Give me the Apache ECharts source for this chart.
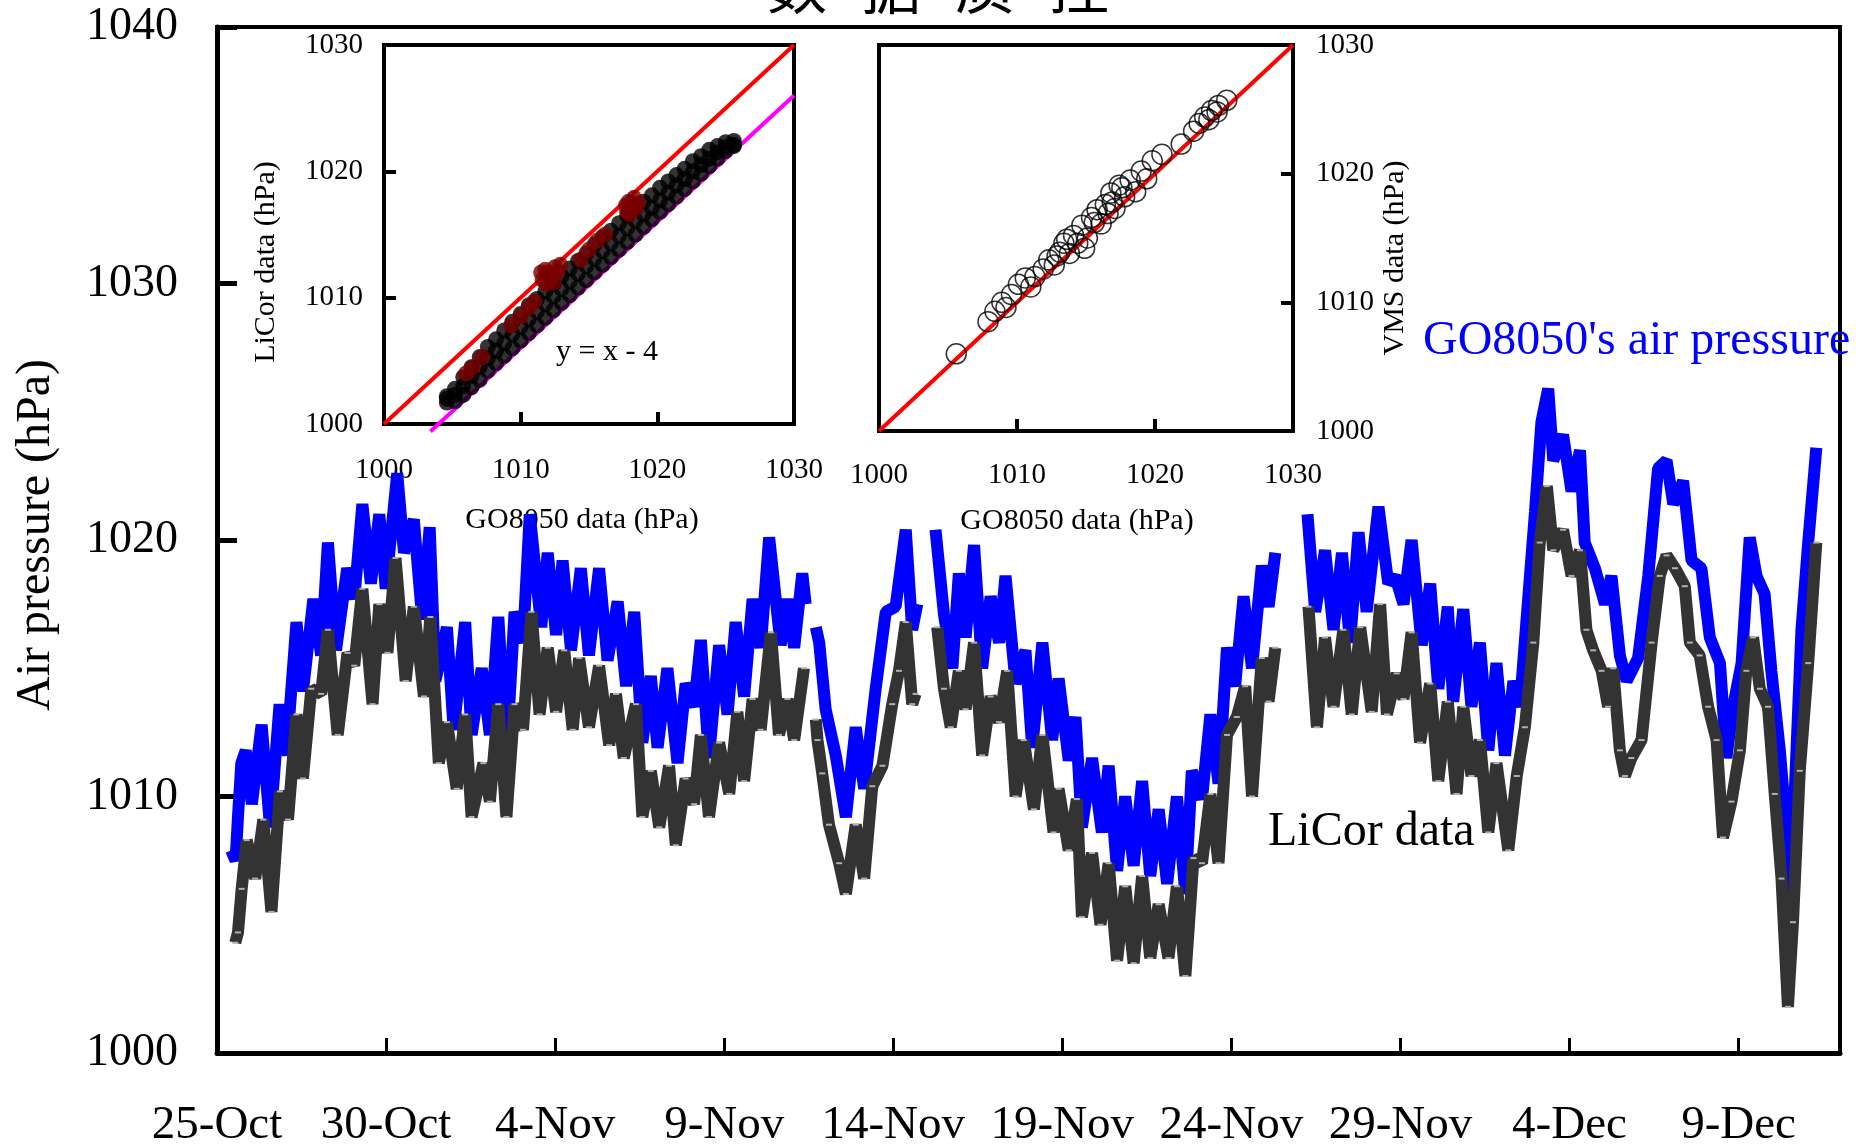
<!DOCTYPE html>
<html><head><meta charset="utf-8">
<script src="https://cdn.jsdelivr.net/npm/echarts/dist/echarts.min.js"></script>
<style>html,body{margin:0;padding:0;background:#fff}#c{width:1864px;height:1144px}</style>
</head><body><div id="c"></div>
<script>
// ---------- tick labels ----------
const dateLabels = ['25-Oct','30-Oct','4-Nov','9-Nov','14-Nov','19-Nov','24-Nov','29-Nov','4-Dec','9-Dec'];
const titleChars = ['数','据','质','控'];

// ---------- main series: days since 25-Oct, pressure (hPa); null = gap ----------
const goDays = [0.42,0.55,0.62,0.72,0.85,1.03,1.32,1.57,1.85,2.05,2.35,2.54,2.85,3.08,3.28,3.52,3.85,4.06,4.3,4.55,4.8,4.99,5.33,5.53,5.82,6.07,6.29,6.46,6.8,7.0,7.34,7.53,7.83,8.07,8.32,8.56,8.8,9.05,9.25,9.59,9.78,10.03,10.22,10.47,10.76,11.0,11.3,11.55,11.85,12.1,12.34,12.58,12.83,13.03,13.32,13.62,13.86,14.11,14.31,14.55,14.85,15.1,15.34,15.59,15.84,16.08,16.33,16.67,16.87,17.07,17.31,17.41,
17.55,
17.71,17.81,18.0,18.3,18.6,18.89,19.14,19.48,19.78,20.07,20.37,20.56,20.71,
21.0,
21.25,21.5,21.75,21.94,22.14,22.39,22.63,22.88,23.13,23.32,23.62,23.91,24.11,24.41,24.7,24.89,25.19,25.39,25.58,25.88,26.17,26.37,26.62,26.86,27.11,27.36,27.6,27.85,28.1,28.39,28.64,28.83,29.13,29.38,29.62,29.87,30.11,30.36,30.61,30.9,31.1,31.3,
31.8,
32.25,32.48,32.77,33.02,33.27,33.51,33.76,34.0,34.35,34.64,34.84,35.09,35.33,35.63,35.88,36.12,36.4,36.56,36.86,37.1,37.35,37.6,37.84,38.09,38.34,38.53,38.73,38.98,39.17,39.37,39.52,39.81,40.06,40.31,40.45,40.75,41.05,41.24,41.49,41.69,42.03,42.33,42.62,42.87,43.07,43.36,43.61,43.9,44.15,44.45,44.64,44.84,45.09,45.33,45.53,45.77,45.97,46.22,46.41,46.51,46.66,46.86,47.06,47.3];
const goPres = [1007.9,1007.5,1009.2,1011.3,1011.8,1009.7,1012.8,1008.8,1013.6,1011.6,1016.8,1014.1,1017.7,1015.5,1019.9,1015.7,1018.9,1017.7,1021.4,1018.3,1021.0,1018.1,1022.6,1019.5,1020.8,1016.9,1020.5,1014.5,1016.6,1012.6,1016.8,1012.4,1015.0,1012.4,1017.0,1011.6,1017.2,1016.0,1021.0,1016.6,1019.5,1016.3,1019.2,1015.7,1018.9,1015.5,1018.9,1015.3,1017.6,1014.3,1017.2,1012.1,1014.7,1011.9,1015.0,1011.3,1014.4,1013.5,1016.1,1011.5,1015.9,1013.2,1016.8,1013.9,1017.7,1015.8,1020.1,1015.9,1017.7,1015.8,1018.7,1017.5,
null,
1016.6,1016.0,1013.4,1011.6,1009.2,1012.7,1010.3,1014.2,1017.2,1017.4,1020.4,1016.5,1017.5,
null,
1020.4,1017.1,1015.0,1018.7,1016.2,1019.8,1015.0,1017.8,1016.0,1018.6,1014.4,1015.7,1011.9,1016.0,1012.2,1014.6,1011.4,1013.1,1008.8,1011.5,1008.6,1011.2,1007.1,1010.0,1007.3,1010.6,1006.9,1009.5,1006.6,1010.0,1006.2,1011.0,1009.9,1013.2,1010.5,1015.8,1014.3,1017.8,1015.0,1019.0,1017.4,1019.5,
null,
1021.0,1017.2,1019.6,1016.5,1019.5,1016.0,1020.3,1017.2,1021.3,1018.3,1018.6,1017.5,1020.0,1015.9,1018.3,1014.2,1017.4,1013.7,1017.3,1013.5,1016.0,1011.8,1015.2,1011.6,1014.5,1013.5,1016.9,1021.1,1024.6,1025.9,1023.1,1024.1,1021.9,1023.5,1019.9,1018.9,1017.5,1018.6,1015.5,1014.5,1015.4,1018.6,1022.8,1023.1,1021.4,1022.3,1019.2,1018.9,1016.2,1015.2,1011.5,1013.5,1015.2,1020.1,1018.6,1017.9,1014.9,1011.8,1008.8,1005.1,1010.1,1016.5,1019.9,1023.6];

const liDays = [0.54,0.62,0.73,0.88,1.13,1.37,1.61,1.86,2.1,2.35,2.54,2.79,3.08,3.28,3.57,3.86,4.06,4.3,4.6,4.8,5.04,5.28,5.58,5.82,6.12,6.31,6.56,6.8,7.09,7.34,7.53,7.88,8.07,8.32,8.56,8.8,9.05,9.3,9.54,9.78,10.03,10.27,10.52,10.71,11.0,11.3,11.6,11.8,12.03,12.39,12.58,12.83,13.08,13.37,13.57,13.86,14.11,14.31,14.55,14.85,15.15,15.39,15.59,15.84,16.08,16.38,16.62,16.87,17.07,17.36,
17.55,
17.71,17.76,17.9,18.1,18.4,18.6,18.89,19.14,19.38,19.68,19.97,20.17,20.37,20.56,20.66,
21.0,
21.3,21.5,21.7,21.94,22.14,22.39,22.63,22.88,23.13,23.37,23.62,23.86,24.16,24.41,24.74,24.89,25.19,25.43,25.58,25.88,26.13,26.37,26.62,26.86,27.11,27.36,27.6,27.85,28.14,28.39,28.64,28.88,29.13,29.38,29.62,29.87,30.16,30.41,30.61,30.9,31.1,31.3,
31.8,
32.28,32.53,32.77,33.02,33.31,33.56,33.81,34.15,34.4,34.6,34.89,35.09,35.33,35.58,35.88,36.12,36.4,36.66,36.86,37.1,37.35,37.6,37.84,38.19,38.44,38.68,38.93,39.12,39.33,39.52,39.81,40.06,40.31,40.5,40.7,40.95,41.14,41.29,41.49,41.64,41.83,42.13,42.43,42.67,42.87,43.12,43.41,43.56,43.85,44.1,44.35,44.54,44.79,45.04,45.23,45.43,45.63,45.87,46.07,46.27,46.46,46.61,46.81,47.06,47.3];
const liPres = [1004.3,1004.7,1006.4,1008.3,1006.8,1009.1,1005.5,1010.2,1009.1,1013.2,1010.7,1014.2,1014.0,1016.5,1012.4,1015.6,1015.1,1018.1,1013.6,1017.5,1015.6,1019.3,1014.5,1017.4,1013.9,1017.0,1011.3,1012.9,1010.3,1013.2,1009.2,1011.3,1009.8,1013.6,1009.2,1013.6,1012.6,1017.2,1013.2,1015.8,1013.3,1015.7,1012.6,1015.4,1012.7,1015.1,1012.0,1014.0,1011.5,1013.6,1009.2,1011.0,1008.8,1011.2,1008.1,1010.7,1009.7,1012.4,1009.2,1012.1,1010.1,1013.3,1010.6,1013.8,1012.6,1016.4,1012.4,1013.8,1012.2,1015.0,
null,
1013.0,1012.2,1010.9,1008.9,1007.4,1006.2,1008.9,1006.8,1010.4,1011.2,1013.6,1014.9,1016.8,1013.6,1014.0,
null,
1016.6,1014.2,1012.7,1014.9,1013.4,1016.0,1011.6,1013.9,1012.9,1014.9,1010.0,1012.2,1009.5,1012.4,1008.6,1010.3,1007.9,1009.9,1005.3,1007.8,1005.0,1007.4,1003.6,1006.5,1003.5,1006.9,1003.7,1005.8,1003.7,1006.5,1003.0,1007.6,1007.4,1010.1,1007.4,1012.4,1013.1,1014.3,1010.0,1015.4,1013.7,1015.8,
null,
1017.4,1012.7,1016.2,1013.5,1016.5,1013.2,1016.6,1013.3,1017.5,1013.2,1014.8,1013.8,1016.4,1012.1,1014.4,1010.6,1013.7,1010.1,1013.5,1010.8,1012.2,1008.6,1011.3,1007.9,1010.8,1012.7,1016.0,1019.9,1022.1,1019.6,1020.4,1018.6,1019.6,1016.5,1015.7,1014.9,1013.5,1015.0,1011.8,1010.8,1011.5,1012.2,1016.0,1018.6,1019.4,1018.9,1018.2,1016.0,1015.5,1013.5,1012.2,1008.4,1009.8,1011.8,1014.9,1016.2,1014.2,1013.5,1010.1,1006.8,1001.8,1005.1,1011.0,1015.2,1019.9];

// ---------- inset 1: GO8050 vs LiCor (upper, middle and lower edge of the dense band) ----------
const ins1GO = [1004.6,1005.2,1005.8,1006.4,1007.0,1007.6,1008.2,1008.8,1009.4,1010.0,1010.6,1011.2,1011.8,1012.4,1013.0,1013.6,1014.2,1014.8,1015.4,1016.0,1016.6,1017.2,1017.8,1018.4,1019.0,1019.6,1020.2,1020.8,1021.4,1022.0,1022.6,1023.2,1023.8,1024.4,1025.0,1025.6];
const ins1LiCorUpper = [1002.2,1002.8,1003.7,1004.5,1005.3,1006.1,1006.7,1007.4,1008.1,1008.7,1009.4,1009.9,1010.5,1011.1,1011.7,1012.3,1012.9,1013.5,1014.2,1014.8,1015.3,1015.9,1016.5,1017.1,1017.6,1018.1,1018.7,1019.2,1019.7,1020.2,1020.8,1021.2,1021.7,1022.0,1022.3,1022.4];
const ins1LiCorMid   = [1002.0,1002.3,1003.0,1003.8,1004.5,1005.2,1005.8,1006.4,1007.1,1007.7,1008.3,1008.9,1009.5,1010.1,1010.7,1011.3,1011.9,1012.5,1013.1,1013.7,1014.3,1014.9,1015.5,1016.1,1016.6,1017.1,1017.7,1018.3,1018.9,1019.4,1020.0,1020.5,1021.0,1021.5,1021.9,1022.1];
const ins1LiCorLower = [1001.7,1001.8,1002.3,1002.9,1003.5,1004.2,1004.8,1005.4,1006.0,1006.6,1007.2,1007.8,1008.4,1009.0,1009.6,1010.2,1010.8,1011.4,1012.0,1012.6,1013.2,1013.8,1014.4,1015.0,1015.6,1016.2,1016.8,1017.4,1018.0,1018.6,1019.2,1019.8,1020.4,1021.0,1021.6,1022.0];
const ins1OddGO    = [1006.0,1006.5,1007.2,1009.3,1010.0,1010.6,1011.0,1011.6,1011.8,1012.0,1012.2,1012.5,1012.7,1011.9,1012.4,1012.9,1011.5,1014.4,1015.0,1015.6,1016.2,1017.8,1017.9,1018.1,1018.3,1018.4,1018.0,1017.7,1018.6];
const ins1OddLiCor = [1004.0,1004.5,1005.3,1007.8,1008.5,1009.2,1009.7,1011.4,1012.2,1012.0,1011.6,1012.4,1012.0,1011.1,1011.2,1012.6,1012.0,1013.0,1013.8,1014.5,1015.0,1016.8,1017.6,1017.4,1017.9,1017.1,1016.6,1017.3,1017.5];
const oneToOne = [1000, 1030];
const fitX = [1003.4, 1030];   // y = x - 4
const fitY = [999.4, 1026];

// ---------- inset 2: GO8050 vs VMS ----------
const ins2GO  = [1005.6,1007.9,1008.4,1008.9,1009.2,1009.6,1010.1,1010.6,1011.0,1011.3,1011.9,1012.3,1012.7,1013.1,1013.4,1013.8,1014.1,1014.4,1014.7,1015.1,1015.4,1015.8,1016.1,1016.4,1016.8,1017.1,1017.4,1017.8,1018.2,1018.6,1019.0,1019.4,1019.8,1020.5,1021.9,1022.8,1023.2,1023.6,1024.1,1024.6,1025.2,1023.9,1024.5,1014.9,1016.6,1012.9,1013.6,1015.6,1016.9,1017.6];
const ins2VMS = [1006.0,1008.5,1009.3,1010.0,1009.6,1010.6,1011.4,1011.9,1011.2,1012.0,1012.6,1013.3,1012.9,1013.9,1014.6,1013.8,1015.2,1014.6,1016.0,1015.0,1016.6,1017.2,1016.1,1017.6,1018.5,1017.3,1019.1,1018.2,1019.5,1018.6,1020.2,1019.6,1021.0,1021.5,1022.3,1023.3,1023.9,1024.4,1024.9,1025.3,1025.7,1024.2,1024.8,1014.2,1016.9,1013.6,1014.9,1016.2,1017.8,1018.9];

const SERIF = '"Liberation Serif","Times New Roman",serif';
const pair = (xs, ys) => xs.map((x, i) => [x, ys[i] === null ? '-' : ys[i]]);
const plain = v => String(v);

const chart = echarts.init(document.getElementById('c'), null, {renderer: 'canvas'});

function insetX(grid, margin) {
  return {
    gridIndex: grid, type: 'value', min: 1000, max: 1030, interval: 10,
    axisLine: {show: true, onZero: false, lineStyle: {color: '#000', width: 4}},
    axisTick: {show: true, inside: true, length: 12, lineStyle: {color: '#000', width: 4}},
    axisLabel: {color: '#000', fontFamily: SERIF, fontSize: 29, margin: margin, formatter: plain},
    splitLine: {show: false}
  };
}
function insetY(grid, pos, margin) {
  return {
    gridIndex: grid, type: 'value', min: 1000, max: 1030, interval: 10, position: pos,
    axisLine: {show: true, onZero: false, lineStyle: {color: '#000', width: 4}},
    axisTick: {show: true, inside: true, length: 12, lineStyle: {color: '#000', width: 4}},
    axisLabel: {color: '#000', fontFamily: SERIF, fontSize: 29, margin: margin, formatter: plain},
    splitLine: {show: false}
  };
}

const graphics = [];
const titleX = [797, 891, 985, 1079];
titleChars.forEach((ch, i) => graphics.push({
  type: 'text', x: titleX[i], y: 16,
  style: {text: ch, fill: '#000', font: '60px "Noto Sans CJK SC"', align: 'center', verticalAlign: 'bottom', textAlign: 'center', textVerticalAlign: 'bottom'}
}));
graphics.push(
  {type: 'text', x: 36, y: 535, rotation: Math.PI / 2,
   style: {text: 'Air pressure (hPa)', fill: '#000', font: '48px ' + SERIF, align: 'center', verticalAlign: 'middle', textAlign: 'center', textVerticalAlign: 'middle'}},
  {type: 'text', x: 1423, y: 341,
   style: {text: "GO8050's air pressure", fill: '#0000ff', font: '48px ' + SERIF, align: 'left', verticalAlign: 'middle', textAlign: 'left', textVerticalAlign: 'middle'}},
  {type: 'text', x: 1268, y: 832,
   style: {text: 'LiCor data', fill: '#000', font: '48px ' + SERIF, align: 'left', verticalAlign: 'middle', textAlign: 'left', textVerticalAlign: 'middle'}},
  {type: 'text', x: 607, y: 352,
   style: {text: 'y = x - 4', fill: '#000', font: '30px ' + SERIF, align: 'center', verticalAlign: 'middle', textAlign: 'center', textVerticalAlign: 'middle'}},
  {type: 'text', x: 266, y: 262, rotation: Math.PI / 2,
   style: {text: 'LiCor data (hPa)', fill: '#000', font: '30px ' + SERIF, align: 'center', verticalAlign: 'middle', textAlign: 'center', textVerticalAlign: 'middle'}},
  {type: 'text', x: 582, y: 520,
   style: {text: 'GO8050 data (hPa)', fill: '#000', font: '30px ' + SERIF, align: 'center', verticalAlign: 'middle', textAlign: 'center', textVerticalAlign: 'middle'}},
  {type: 'text', x: 1077, y: 521,
   style: {text: 'GO8050 data (hPa)', fill: '#000', font: '30px ' + SERIF, align: 'center', verticalAlign: 'middle', textAlign: 'center', textVerticalAlign: 'middle'}},
  {type: 'text', x: 1395, y: 258, rotation: Math.PI / 2,
   style: {text: 'VMS data (hPa)', fill: '#000', font: '30px ' + SERIF, align: 'center', verticalAlign: 'middle', textAlign: 'center', textVerticalAlign: 'middle'}}
);

const gridBase = {show: true, borderColor: '#000', borderWidth: 4, containLabel: false, outerBoundsMode: 'none'};

chart.setOption({
  animation: false,
  backgroundColor: '#fff',
  grid: [
    Object.assign({left: 217, top: 27, width: 1623, height: 1026}, gridBase),
    Object.assign({left: 384, top: 45, width: 410, height: 379}, gridBase),
    Object.assign({left: 879, top: 45, width: 414, height: 386}, gridBase)
  ],
  xAxis: [
    {gridIndex: 0, type: 'value', min: 0, max: 48, interval: 5,
     axisLine: {show: true, onZero: false, lineStyle: {color: '#000', width: 5}},
     axisTick: {show: true, inside: true, length: 15, lineStyle: {color: '#000', width: 3}},
     axisLabel: {color: '#000', fontFamily: SERIF, fontSize: 47, margin: 49, showMaxLabel: false,
       formatter: v => (v % 5 === 0 && v / 5 < dateLabels.length) ? dateLabels[v / 5] : ''},
     splitLine: {show: false}},
    insetX(1, 32),
    insetX(2, 30)
  ],
  yAxis: [
    {gridIndex: 0, type: 'value', min: 1000, max: 1040, interval: 10,
     axisLine: {show: true, onZero: false, lineStyle: {color: '#000', width: 5}},
     axisTick: {show: true, inside: true, length: 20, lineStyle: {color: '#000', width: 5}},
     axisLabel: {color: '#000', fontFamily: SERIF, fontSize: 46, margin: 39, formatter: plain},
     splitLine: {show: false}},
    insetY(1, 'left', 21),
    insetY(2, 'right', 23)
  ],
  graphic: graphics,
  series: [
    {name: "GO8050's air pressure", type: 'line', xAxisIndex: 0, yAxisIndex: 0,
     data: pair(goDays, goPres), connectNulls: false, showSymbol: false,
     lineStyle: {color: '#0000ff', width: 12, join: 'bevel'}, z: 3},
    {name: 'LiCor data', type: 'line', xAxisIndex: 0, yAxisIndex: 0,
     data: pair(liDays, liPres), connectNulls: false,
     showSymbol: true, showAllSymbol: true, symbol: 'rect', symbolSize: [6, 2],
     itemStyle: {color: '#b0b0b0'},
     lineStyle: {color: '#333333', width: 12, join: 'bevel'}, z: 4},
    // inset 1
    {type: 'line', xAxisIndex: 1, yAxisIndex: 1, data: pair(oneToOne, oneToOne), showSymbol: false,
     lineStyle: {color: '#ff0000', width: 4}, z: 5},
    {type: 'line', xAxisIndex: 1, yAxisIndex: 1, data: pair(fitX, fitY), showSymbol: false, clip: false,
     lineStyle: {color: '#ff00ff', width: 4}, z: 5},
    {type: 'scatter', xAxisIndex: 1, yAxisIndex: 1, data: pair(ins1GO, ins1LiCorUpper),
     symbol: 'circle', symbolSize: 16, itemStyle: {color: '#000'}, z: 6},
    {type: 'scatter', xAxisIndex: 1, yAxisIndex: 1, data: pair(ins1GO, ins1LiCorMid),
     symbol: 'circle', symbolSize: 16, itemStyle: {color: '#000'}, z: 6},
    {type: 'scatter', xAxisIndex: 1, yAxisIndex: 1, data: pair(ins1GO, ins1LiCorLower),
     symbol: 'circle', symbolSize: 16, itemStyle: {color: '#000'}, z: 6},
    {type: 'scatter', xAxisIndex: 1, yAxisIndex: 1, data: pair(ins1OddGO, ins1OddLiCor),
     symbol: 'circle', symbolSize: 16, itemStyle: {color: '#7a0000'}, z: 7},
    // inset 2
    {type: 'line', xAxisIndex: 2, yAxisIndex: 2, data: pair(oneToOne, oneToOne), showSymbol: false,
     lineStyle: {color: '#ff0000', width: 4}, z: 5},
    {type: 'scatter', xAxisIndex: 2, yAxisIndex: 2, data: pair(ins2GO, ins2VMS),
     symbol: 'circle', symbolSize: 20,
     itemStyle: {color: 'rgba(0,0,0,0)', borderColor: '#000', borderWidth: 1.5}, z: 6}
  ]
});
</script></body></html>
